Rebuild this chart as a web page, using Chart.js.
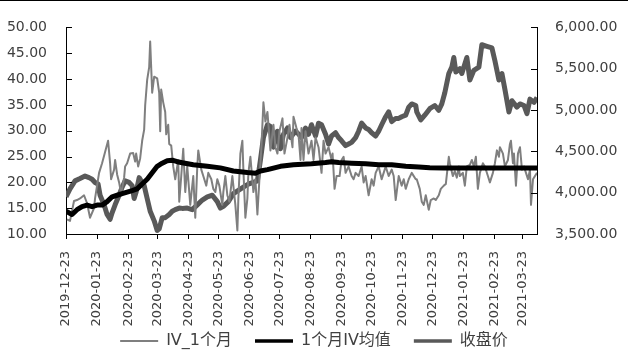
<!DOCTYPE html>
<html><head><meta charset="utf-8">
<script src="https://cdn.jsdelivr.net/npm/chart.js@4"></script>
<style>
html,body{margin:0;padding:0;background:#fff;}
#wrap{position:relative;width:628px;height:352px;}
#topline{position:absolute;left:0;top:0;width:628px;height:1px;background:#000;}
canvas{display:block;}
</style></head>
<body><div id="wrap"><canvas id="c" width="628" height="352"></canvas><div id="topline"></div></div>
<script>
// ---- data (day offsets from startDate) ----
const startDate = '2019-12-23';
const endDate = '2021-04-06';
const tickLabels = ['2019-12-23','2020-01-23','2020-02-23','2020-03-23','2020-04-23','2020-05-23','2020-06-23','2020-07-23','2020-08-23','2020-09-23','2020-10-23','2020-11-23','2020-12-23','2021-01-23','2021-02-23','2021-03-23'];
const seriesNames = ['IV_1个月','1个月IV均值','收盘价'];

const ivDays = [1,4,8,11,14,18,21,24,28,29,33,36,39,42,44,45,48,49,51,53,55,58,59,61,64,67,69,70,72,74,76,78,79,81,83,84,86,88,91,93,94,95,97,99,100,102,103,105,107,109,110,112,113,115,
117,119,121,124,127,129,131,132,135,137,140,142,145,147,149,151,153,156,157,159,161,163,166,167,169,171,172,174,176,177,179,181,182,184,187,189,191,193,195,197,199,201,204,207,209,211,213,216,218,221,223,226,227,230,232,234,
235,237,239,242,245,247,249,252,255,257,259,262,265,266,268,270,273,275,277,279,282,285,287,289,292,295,297,299,302,305,307,309,312,315,317,319,322,325,327,329,332,335,337,339,342,345,349,
350,353,355,357,359,362,364,367,369,372,374,377,379,382,383,386,388,390,392,393,396,398,400,403,405,407,409,411,413,416,418,421,423,426,428,430,432,433,436,438,441,443,444,446,447,449,451,453,455,457,459,461,463,464,466,468,470];
const ivValues = [12.85,12.54,16.39,16.57,16.88,17.5,15.95,13.16,15.02,16.88,21.84,23.71,25.87,28.05,23.71,20.6,22.46,24.33,21.53,19.99,17.82,20.9,23.08,23.71,25.57,25.69,24.01,25.57,23.08,24.64,28.05,30.22,34.87,39.83,42.31,47.27,37.35,40.45,40.14,37.35,29.91,37.97,35.49,33.63,29.29,31.15,27.43,27.11,23.08,20.6,21.84,24.33,16.26,21.22,
26.5,18.12,23.08,15.64,21.22,13.16,23.08,26.19,22.46,21.22,19.36,21.84,20.6,18.74,18.12,20.6,19.36,15.64,18.12,21.22,17.5,16.26,21.22,19.36,15.64,10.68,16.88,25.57,28.05,22.46,13.16,16.88,21.84,24.95,18.12,20.6,13.78,20.6,26.81,35.49,31.77,33.63,26.19,31.15,26.81,25.57,29.91,32.39,25.57,28.67,31.15,26.81,32.7,30.53,29.29,24.33,
30.53,24.33,29.91,25.57,28.05,24.33,28.67,26.81,21.84,28.05,25.57,26.81,24.33,25.57,18.74,21.22,21.22,24.33,24.95,21.84,23.08,21.22,20.6,21.84,21.22,23.08,19.99,21.22,17.5,20.6,19.36,21.84,23.08,20.6,21.84,23.08,21.22,22.46,21.22,16.57,21.22,19.36,20.6,18.74,20.6,21.84,20.6,
20.6,18.74,16.26,15.64,17.5,14.71,16.57,16.88,16.57,17.5,18.74,19.36,19.67,24.95,23.71,21.22,22.15,20.91,23.08,21.22,21.84,19.36,23.08,23.39,24.33,23.08,24.95,18.74,21.84,23.71,23.08,21.22,19.99,21.84,23.71,26.19,24.95,26.81,25.57,23.08,24.33,27.43,28.05,23.71,25.57,19.36,25.57,26.81,22.46,23.08,21.84,20.6,22.46,15.64,20.6,21.22,21.84];

const maDays = [0,6,11,16,21,26,31,36,41,46,51,56,61,66,71,76,81,86,91,96,101,106,111,116,127,141,154,167,181,189,194,201,214,227,245,259,265,272,285,299,312,325,339,352,363,377,390,420,450,470];
const maValues = [14.4,13.78,14.7,15.3,15.6,15.3,15.6,15.6,16.27,17.2,17.5,17.8,18.1,18.4,18.74,19.67,20.6,21.85,23.1,23.7,24.2,24.3,24.0,23.8,23.4,23.1,22.8,22.2,21.9,21.77,22.2,22.47,23.1,23.4,23.58,23.83,24.0,23.83,23.7,23.58,23.4,23.4,23.1,22.97,22.85,22.78,22.78,22.78,22.78,22.78];

const closeDays = [0,4,9,14,19,23,26,29,32,34,38,41,44,46,49,53,56,59,63,66,68,70,73,75,78,81,84,88,91,93,96,99,103,106,109,113,116,
121,126,131,136,141,146,151,154,157,162,167,172,177,182,187,191,194,197,201,204,207,211,214,217,221,224,229,
232,235,239,242,245,249,252,255,259,262,265,269,272,275,279,282,285,289,292,295,299,302,305,309,312,315,319,322,325,329,332,335,339,342,345,349,
350,354,358,363,368,372,375,378,382,385,387,389,393,395,400,403,407,412,415,420,425,428,432,435,438,442,445,450,453,457,460,463,467,470];
const closeValues = [3950,4047,4143,4171,4201,4182,4163,4124,4105,3969,3853,3736,3678,3756,3853,3969,4066,4143,4124,4085,3930,4008,4182,4143,4085,3930,3775,3659,3543,3562,3698,3698,3736,3775,3795,3814,3810,
3814,3795,3853,3911,3950,3969,3892,3814,3834,3892,3988,4027,4066,4105,4124,4143,4395,4667,4822,4802,4550,4744,4531,4706,4783,4667,4744,
4710,4667,4783,4706,4822,4686,4841,4822,4706,4589,4686,4725,4667,4628,4570,4589,4609,4667,4744,4841,4783,4764,4725,4686,4744,4822,4919,4977,4860,4899,4899,4919,4938,5035,5074,5055,
4977,4880,4938,5016,5055,4997,5074,5209,5442,5519,5636,5461,5500,5442,5636,5364,5481,5519,5791,5771,5752,5597,5364,5442,5248,4977,5113,5035,5074,5055,4957,5132,5093,5151];

// ---- helpers ----
function dayOf(s){
  const a = s.split('-').map(Number), b = startDate.split('-').map(Number);
  return Math.round((Date.UTC(a[0],a[1]-1,a[2]) - Date.UTC(b[0],b[1]-1,b[2]))/86400000);
}
const pts = (days, vals) => days.map((d,i) => ({x:d, y:vals[i]}));

const FONT = "'DejaVu Sans','Noto Sans CJK SC',sans-serif";
const TXT = '#404040';
const AXIS = '#000000';

const helper = {
  id:'helper',
  beforeLayout(chart){
    const lg = chart.legend;
    if (lg && !lg._patched){
      const f = lg.fit.bind(lg);
      lg.fit = function(){ f(); this.height = 42; };
      lg._patched = true;
    }
  },
  afterDatasetsDraw(chart){
    const ctx = chart.ctx, a = chart.chartArea;
    ctx.save();
    ctx.strokeStyle = AXIS; ctx.lineWidth = 1;
    [['y', a.left, 1], ['y1', a.right, -1]].forEach(([id, x0, dir]) => {
      const s = chart.scales[id];
      s.ticks.forEach(t => {
        const y = Math.round(s.getPixelForValue(t.value)) + 0.5;
        ctx.beginPath(); ctx.moveTo(x0, y); ctx.lineTo(x0 + dir*6, y); ctx.stroke();
      });
    });
    ctx.restore();
  }
};

const legendWidths = [2, 3.5, 3.5];

new Chart(document.getElementById('c'), {
  type:'line',
  data:{ datasets:[
    {label:seriesNames[0], data:pts(ivDays, ivValues), yAxisID:'y', borderColor:'#7f7f7f', backgroundColor:'#7f7f7f', borderWidth:2, pointRadius:0, order:2, borderJoinStyle:'round'},
    {label:seriesNames[1], data:pts(maDays, maValues), yAxisID:'y', borderColor:'#000000', backgroundColor:'#000000', borderWidth:5, pointRadius:0, order:1, borderJoinStyle:'round'},
    {label:seriesNames[2], data:pts(closeDays, closeValues), yAxisID:'y1', borderColor:'#595959', backgroundColor:'#595959', borderWidth:5, pointRadius:0, order:3, borderJoinStyle:'round'}
  ]},
  options:{
    responsive:false, animation:false, devicePixelRatio:1,
    layout:{ padding:{top:17, left:0, right:0, bottom:0} },
    plugins:{
      tooltip:{enabled:false},
      legend:{
        position:'bottom',
        labels:{
          usePointStyle:true, pointStyle:'line', pointStyleWidth:38, boxWidth:38,
          padding:23, color:TXT, font:{family:FONT, size:16},
          sort:(a,b) => a.datasetIndex - b.datasetIndex,
          generateLabels(chart){
            const items = Chart.defaults.plugins.legend.labels.generateLabels(chart);
            items.forEach(it => { it.lineWidth = legendWidths[it.datasetIndex]; it.lineCap = 'butt'; it.pointStyle = 'line'; });
            return items;
          }
        }
      }
    },
    scales:{
      x:{
        type:'linear', min:0, max:dayOf(endDate),
        afterBuildTicks(s){ s.ticks = tickLabels.map(t => ({value:dayOf(t)})); },
        afterFit(s){ s.height = 76; s._computeLabelArea = () => null; },
        ticks:{ autoSkip:false, minRotation:90, maxRotation:90, padding:12, color:TXT, font:{family:FONT, size:13},
          callback:(v,i) => tickLabels[i] },
        grid:{ drawOnChartArea:false, drawTicks:true, tickLength:5, color:AXIS },
        border:{ display:true, color:AXIS, width:1 }
      },
      y:{
        position:'left', min:10, max:50,
        afterFit(s){ s.width = 66; },
        ticks:{ stepSize:5, padding:19, color:TXT, font:{family:FONT, size:14}, callback:v => Number(v).toFixed(2) },
        grid:{ drawOnChartArea:false, drawTicks:false },
        border:{ display:true, color:AXIS, width:1 }
      },
      y1:{
        position:'right', min:3500, max:6000,
        afterFit(s){ s.width = 91; },
        ticks:{ stepSize:500, padding:18, color:TXT, font:{family:FONT, size:14},
          callback:v => Number(v).toLocaleString('en-US',{minimumFractionDigits:2, maximumFractionDigits:2}) },
        grid:{ drawOnChartArea:false, drawTicks:false },
        border:{ display:true, color:AXIS, width:1 }
      }
    }
  },
  plugins:[helper]
});
</script>
</body></html>
